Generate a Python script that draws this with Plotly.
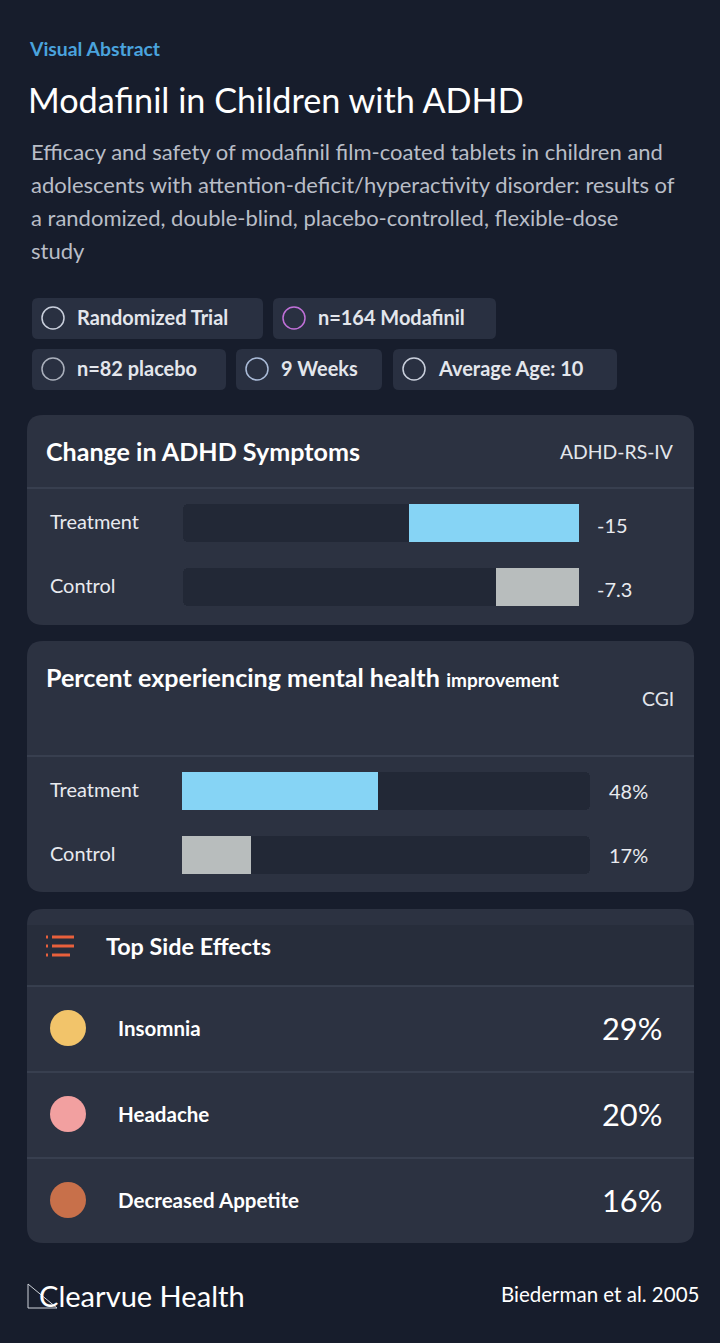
import plotly.graph_objects as go

W, H = 720, 1343
FONT = "Lato"
SCALE = 1.14  # Lato runs narrower than the original font

# data
groups = ["Treatment", "Control"]
symptom_change = [-15, -7.3]
symptom_labels = ["-15", "-7.3"]
cgi_pct = [48, 17]
cgi_labels = ["48%", "17%"]
side_effects = ["Insomnia", "Headache", "Decreased Appetite"]
side_pct = ["29%", "20%", "16%"]
chips_row1 = ["Randomized Trial", "n=164 Modafinil"]
chips_row2 = ["n=82 placebo", "9 Weeks", "Average Age: 10"]

BAR_COLORS = ["#86d4f5", "#b8bdbd"]
TRACK = "#222836"


def px_x(x):
    return x / W


def px_y(y):
    return 1 - y / H


def rrect(x0, y0, x1, y1, r, fill):
    yy0, yy1 = px_y(y1), px_y(y0)
    rx, ry = r / W, r / H
    a0, a1 = px_x(x0), px_x(x1)
    p = (f"M{a0+rx},{yy0} L{a1-rx},{yy0} Q{a1},{yy0} {a1},{yy0+ry} "
         f"L{a1},{yy1-ry} Q{a1},{yy1} {a1-rx},{yy1} L{a0+rx},{yy1} "
         f"Q{a0},{yy1} {a0},{yy1-ry} L{a0},{yy0+ry} Q{a0},{yy0} {a0+rx},{yy0} Z")
    return dict(type="path", path=p, xref="paper", yref="paper",
                fillcolor=fill, line=dict(width=0), layer="below")


def hline(y, x0=27, x1=694, color="#3d4454"):
    return dict(type="line", xref="paper", yref="paper", x0=px_x(x0), x1=px_x(x1),
                y0=px_y(y), y1=px_y(y), line=dict(color=color, width=1.5), layer="below")


def text(x, y, s, size, color="#ffffff", bold=False, anchor="left"):
    return dict(x=px_x(x), y=px_y(y), xref="paper", yref="paper", text=f"<b>{s}</b>" if bold else s,
                showarrow=False, xanchor=anchor, yanchor="middle", borderpad=0,
                font=dict(family=FONT, size=size * SCALE, color=color))


fig = go.Figure()
shapes, ann = [], []

# header
ann.append(text(28, 49, "Visual Abstract", 17, "#4aa3dd", True))
ann.append(text(27, 99, "Modafinil in Children with ADHD", 30, "#ffffff"))
sub = ["Efficacy and safety of modafinil film-coated tablets in children and",
       "adolescents with attention-deficit/hyperactivity disorder: results of",
       "a randomized, double-blind, placebo-controlled, flexible-dose",
       "study"]
for i, line in enumerate(sub):
    ann.append(text(30, 151 + 33 * i, line, 19.3, "#b9bdc7"))

# chips
chip_boxes1 = [(32, 263), (273, 496)]
chip_boxes2 = [(32, 226), (236, 382), (393, 617)]
icon_cols1 = ["#c9cfdc", "#c070d8"]
icon_cols2 = ["#aab0bc", "#aabbd8", "#c9cfdc"]
for row_y, boxes, labels, cols in [(298, chip_boxes1, chips_row1, icon_cols1),
                                   (349, chip_boxes2, chips_row2, icon_cols2)]:
    for (x0, x1), lab, ic in zip(boxes, labels, cols):
        shapes.append(rrect(x0, row_y, x1, row_y + 41, 6, "#293041"))
        shapes.append(dict(type="circle", xref="paper", yref="paper", x0=px_x(x0 + 10), x1=px_x(x0 + 32),
                           y0=px_y(row_y + 31), y1=px_y(row_y + 9), line=dict(color=ic, width=1.5)))
        ann.append(text(x0 + 44, row_y + 19, lab, 17.5, "#e3e6ec", True))

# card 1
shapes.append(rrect(27, 415, 694, 625, 16, "rgba(52,58,74,0.72)"))
shapes.append(hline(488))
ann.append(text(45, 451, "Change in ADHD Symptoms", 22, "#ffffff", True))
ann.append(text(675, 451, "ADHD-RS-IV", 17, "#e3e6ec", anchor="right"))

# card 2
shapes.append(rrect(27, 641, 694, 892, 16, "rgba(52,58,74,0.72)"))
shapes.append(hline(756))
ann.append(text(45, 677, f"<b>Percent experiencing mental health</b> <b><span style='font-size:{17*SCALE:.0f}px'>improvement</span></b>",
                22, "#ffffff"))
ann.append(text(675, 698, "CGI", 17, "#e3e6ec", anchor="right"))

# bar labels
for g, lab, yc in zip(groups, symptom_labels, [523, 587]):
    ann.append(text(49, yc - 2, g, 17.5, "#e8eaef"))
    ann.append(text(596, yc + 2, lab, 17.5, "#e8eaef"))
for g, lab, yc in zip(groups, cgi_labels, [791, 855]):
    ann.append(text(49, yc - 2, g, 17.5, "#e8eaef"))
    ann.append(text(608, yc, lab, 17.5, "#e8eaef"))

bar_kw = dict(orientation="h", width=0.6)
fig.add_trace(go.Bar(x=[-35] * len(groups), y=groups, marker=dict(color=TRACK, cornerradius=5, line=dict(width=0)),
                     xaxis="x", yaxis="y", hoverinfo="skip", **bar_kw))
fig.add_trace(go.Bar(x=symptom_change, y=groups, marker=dict(color=BAR_COLORS, cornerradius=5, line=dict(width=0)),
                     xaxis="x", yaxis="y", **bar_kw))
fig.add_trace(go.Bar(x=[100] * len(groups), y=groups, marker=dict(color=TRACK, cornerradius=5, line=dict(width=0)),
                     xaxis="x2", yaxis="y2", hoverinfo="skip", **bar_kw))
fig.add_trace(go.Bar(x=cgi_pct, y=groups, marker=dict(color=BAR_COLORS, cornerradius=5, line=dict(width=0)),
                     xaxis="x2", yaxis="y2", **bar_kw))

ax = dict(showgrid=False, zeroline=False, showticklabels=False, showline=False, fixedrange=True)
fig.update_layout(
    xaxis=dict(ax, range=[-35, 0], domain=[px_x(183), px_x(579)], anchor="y"),
    yaxis=dict(ax, domain=[px_y(619), px_y(491)], autorange="reversed", anchor="x"),
    xaxis2=dict(ax, range=[0, 100], domain=[px_x(182), px_x(590)], anchor="y2"),
    yaxis2=dict(ax, domain=[px_y(887), px_y(759)], autorange="reversed", anchor="x2"),
)

# card 3
shapes.append(rrect(27, 909, 694, 1243, 16, "rgba(52,58,74,0.72)"))
shapes.append(dict(type="rect", xref="paper", yref="paper", x0=px_x(27), x1=px_x(694),
                   y0=px_y(986), y1=px_y(925), fillcolor="rgba(30,35,48,0.3)", line=dict(width=0), layer="below"))
for y in [986, 1072, 1158]:
    shapes.append(hline(y))
for i, yy in enumerate([937, 946, 955]):
    shapes.append(dict(type="line", xref="paper", yref="paper", x0=px_x(52), x1=px_x(74 - 4 * (i == 2)),
                       y0=px_y(yy), y1=px_y(yy), line=dict(color="#e8603c", width=3)))
    shapes.append(dict(type="line", xref="paper", yref="paper", x0=px_x(46), x1=px_x(48),
                       y0=px_y(yy), y1=px_y(yy), line=dict(color="#e8603c", width=3)))
ann.append(text(105, 946, "Top Side Effects", 20.5, "#ffffff", True))
icon_fill = ["#f2c46a", "#f2a0a0", "#c8704a"]
for i, (name, pct) in enumerate(zip(side_effects, side_pct)):
    yc = 1028 + 86 * i
    shapes.append(dict(type="circle", xref="paper", yref="paper", x0=px_x(50), x1=px_x(86),
                       y0=px_y(yc + 18), y1=px_y(yc - 18), fillcolor=icon_fill[i], line=dict(width=0)))
    ann.append(text(117, yc, name, 18, "#ffffff", True))
    ann.append(text(663, yc, pct, 27, "#ffffff", anchor="right"))

# footer
ann.append(text(38, 1295, "Clearvue Health", 25.5, "#ffffff"))
shapes.append(dict(type="path", xref="paper", yref="paper",
                   path=f"M{px_x(28)},{px_y(1284)} L{px_x(28)},{px_y(1308)} L{px_x(57)},{px_y(1308)} Z",
                   line=dict(color="#cfd3da", width=1)))
ann.append(text(700, 1294, "Biederman et al. 2005", 18, "#ffffff", anchor="right"))

fig.update_layout(
    width=W, height=H, margin=dict(l=0, r=0, t=0, b=0),
    paper_bgcolor="#171d2c", plot_bgcolor="rgba(0,0,0,0)",
    barmode="overlay", showlegend=False, bargap=0,
    shapes=shapes, annotations=ann,
)
fig.write_html("out.html", config={"displayModeBar": False},
               post_script="document.body.style.margin='0';document.body.style.background='#171d2c';")
